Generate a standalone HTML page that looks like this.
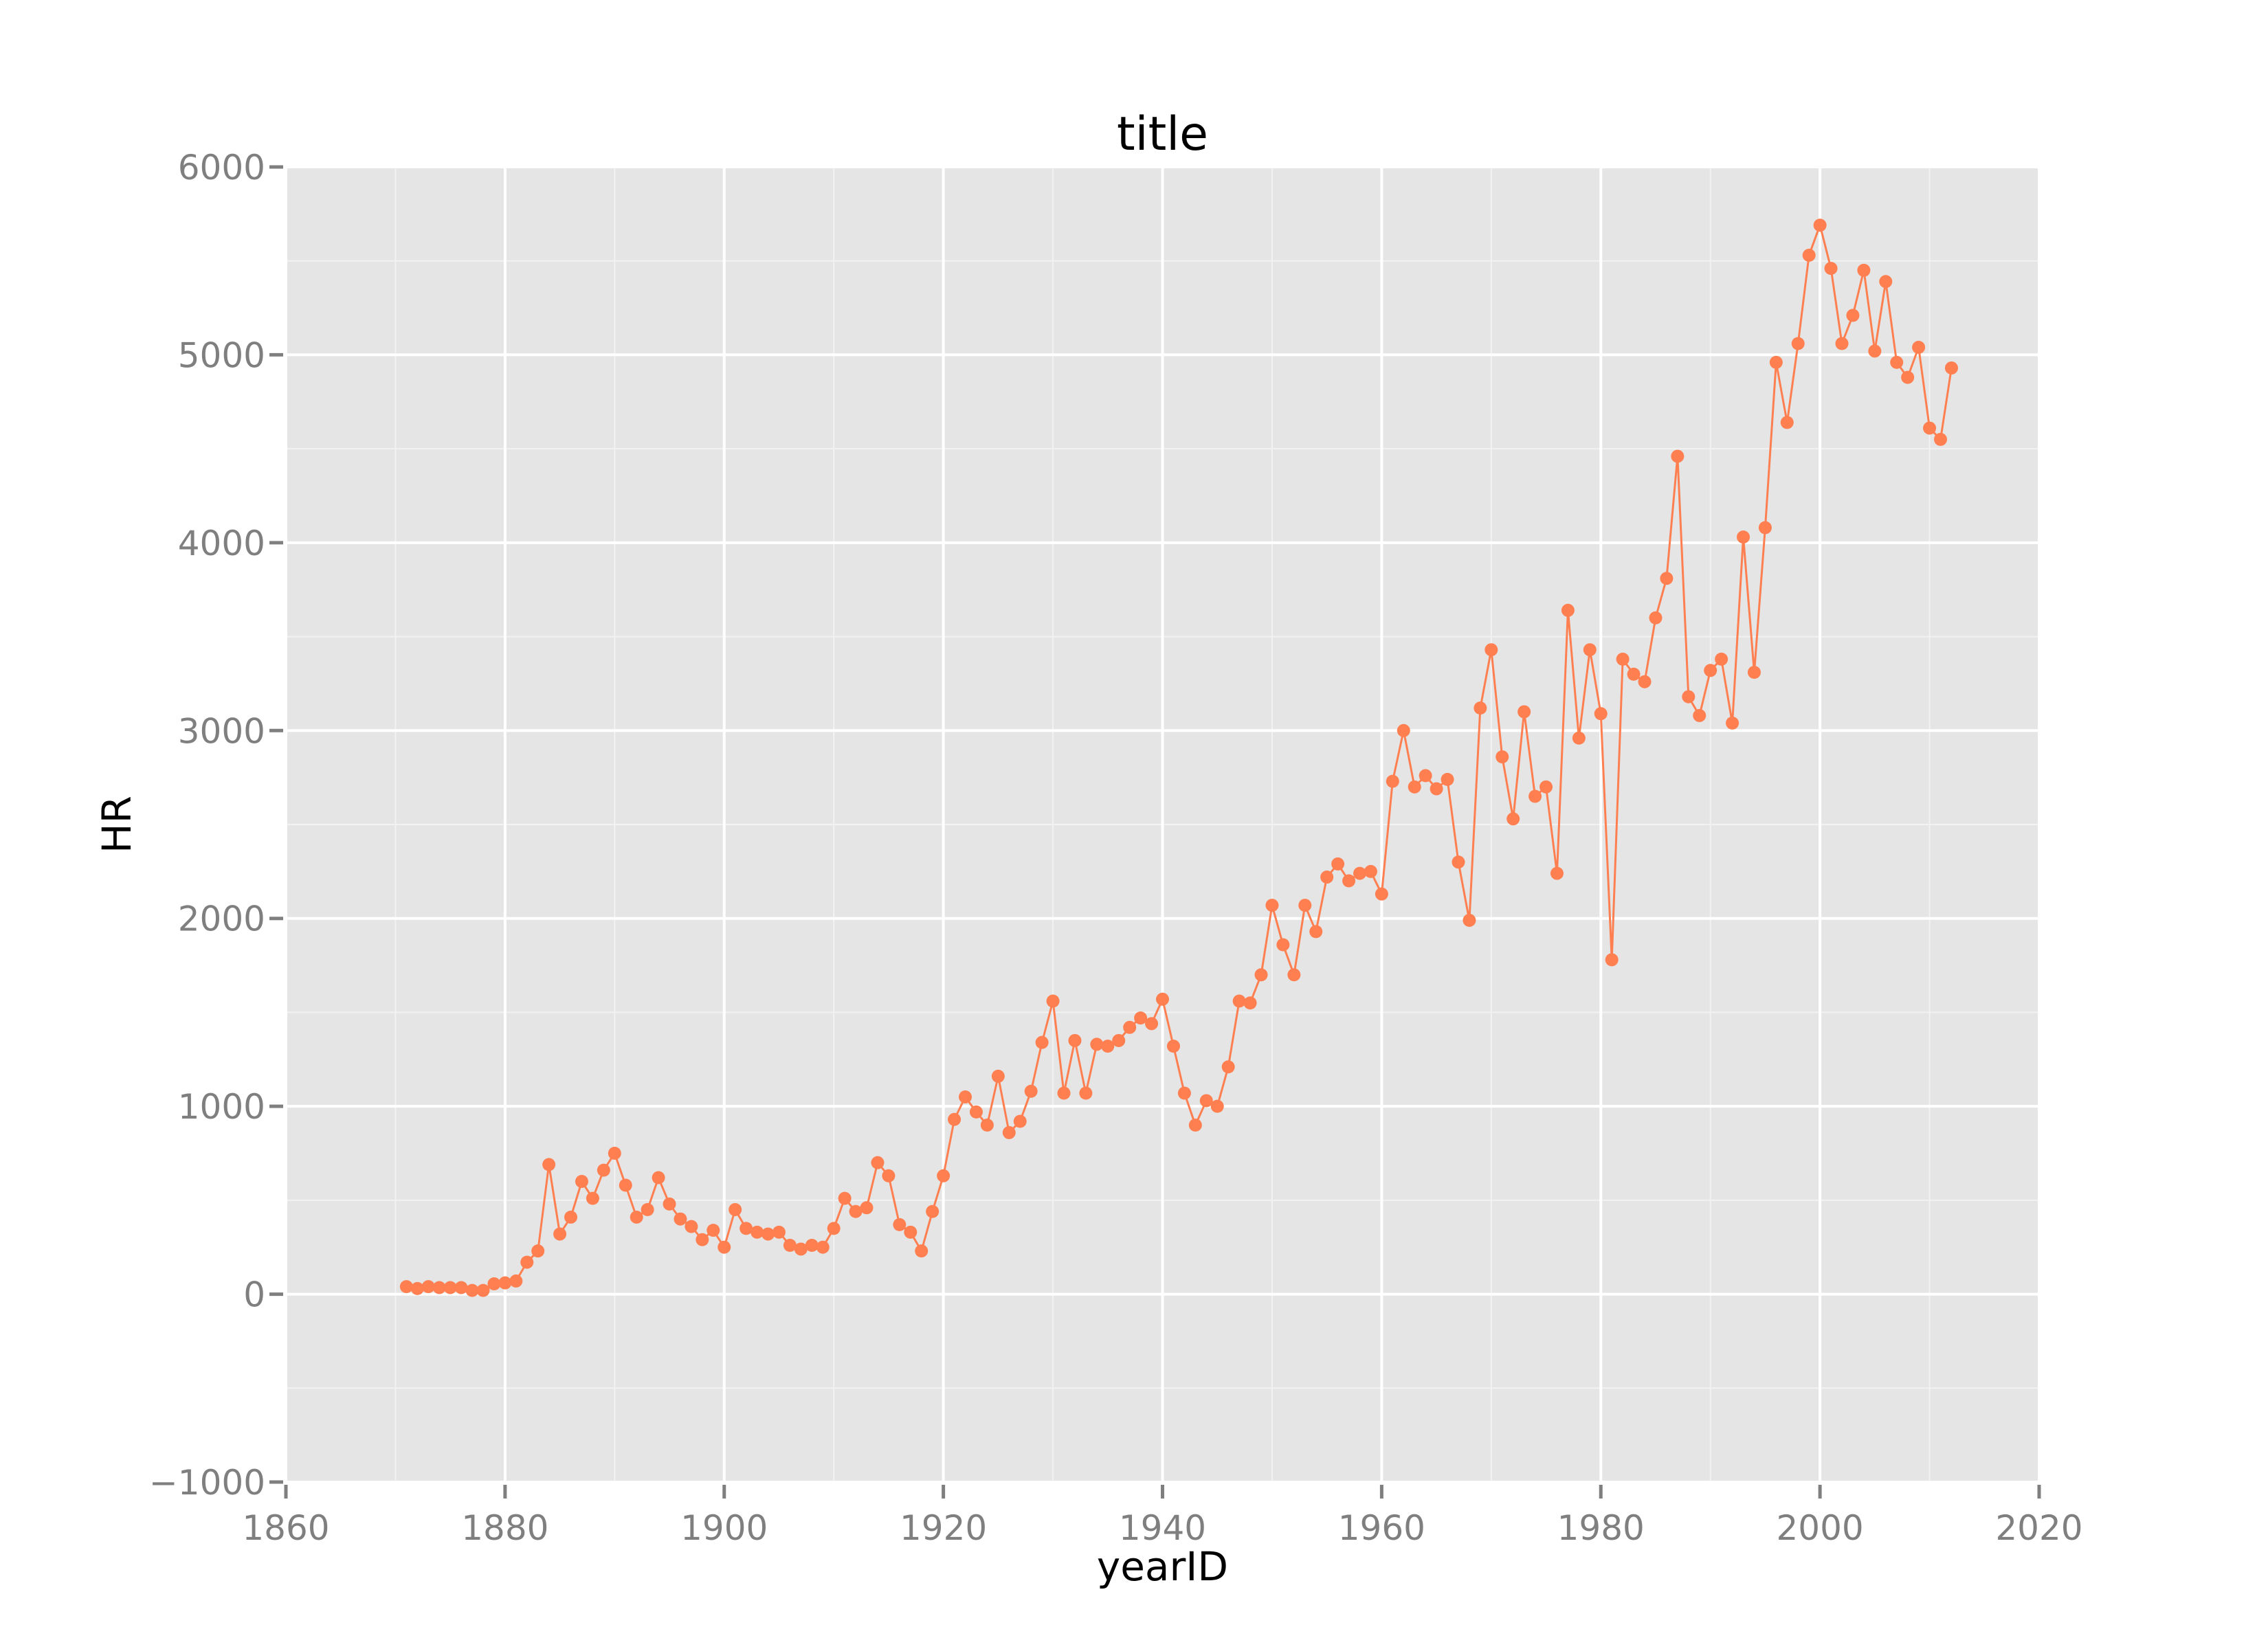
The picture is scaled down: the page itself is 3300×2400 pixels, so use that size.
<!DOCTYPE html>
<html><head><meta charset="utf-8"><style>
html,body{margin:0;padding:0;background:#fff}
svg{display:block}
text{font-family:"DejaVu Sans","Liberation Sans",sans-serif}
</style></head><body>
<svg id="chart" width="3300" height="2400" xmlns="http://www.w3.org/2000/svg"></svg>
<script>
const years = [];
for (let y = 1871; y <= 2012; y++) years.push(y);
const hrValues = [40,30,40,35,35,35,20,20,55,60,70,170,230,690,320,410,600,510,660,750,
580,410,450,620,480,400,360,290,340,250,450,350,330,320,330,260,240,260,250,350,
510,440,460,700,630,370,330,230,440,630,930,1050,970,900,1160,860,920,1080,1340,1560,
1070,1350,1070,1330,1320,1350,1420,1470,1440,1570,1320,1070,900,1030,1000,1210,1560,1550,1700,2070,
1860,1700,2070,1930,2220,2290,2200,2240,2250,2130,2730,3000,2700,2760,2690,2740,2300,1990,3120,3430,
2860,2530,3100,2650,2700,2240,3640,2960,3430,3090,1780,3380,3300,3260,3600,3810,4460,3180,3080,3320,
3380,3040,4030,3310,4080,4960,4640,5060,5530,5690,5460,5060,5210,5450,5020,5390,4960,4880,5040,4610,
4550,4930];
const xTicks = [1860,1880,1900,1920,1940,1960,1980,2000,2020];
const yTicks = [-1000,0,1000,2000,3000,4000,5000,6000];

const L=416,R=2967,T=243,B=2157;
const xMin=1860,xMax=2020,yMin=-1000,yMax=6000;
const sx=v=>L+(v-xMin)/(xMax-xMin)*(R-L);
const sy=v=>B-(v-yMin)/(yMax-yMin)*(B-T);
const NS="http://www.w3.org/2000/svg";
const svg=document.getElementById('chart');
function mk(tag,attrs,parent){const e=document.createElementNS(NS,tag);for(const k in attrs)e.setAttribute(k,attrs[k]);(parent||svg).appendChild(e);return e;}

const bg=mk('rect',{x:L,y:T,width:R-L,height:B-T,fill:'#e5e5e5'});



for(let i=0;i<xTicks.length-1;i++){
  const m=(xTicks[i]+xTicks[i+1])/2;
  const g=mk('line',{x1:sx(m),x2:sx(m),y1:T,y2:B,stroke:'#f2f2f2','stroke-width':2});
  
  
}
for(let i=0;i<yTicks.length-1;i++){
  const m=(yTicks[i]+yTicks[i+1])/2;
  const g=mk('line',{x1:L,x2:R,y1:sy(m),y2:sy(m),stroke:'#f2f2f2','stroke-width':2});
  
  
}
xTicks.forEach(t=>{
  const x=sx(t);
  const g=mk('line',{x1:x,x2:x,y1:T,y2:B,stroke:'#ffffff','stroke-width':4});
  
  
  const tk=mk('line',{x1:x,x2:x,y1:B+4,y2:B+24,stroke:'#7f7f7f','stroke-width':5});
  
  
  const lb=mk('text',{x:x,y:B+84,'text-anchor':'middle','font-size':50,fill:'#7f7f7f'});
  lb.textContent=t;
  
  
});
yTicks.forEach(t=>{
  const y=sy(t);
  const g=mk('line',{x1:L,x2:R,y1:y,y2:y,stroke:'#ffffff','stroke-width':4});
  
  
  const tk=mk('line',{x1:L-4,x2:L-24,y1:y,y2:y,stroke:'#7f7f7f','stroke-width':5});
  
  
  const lb=mk('text',{x:L-30,y:y+18,'text-anchor':'end','font-size':50,fill:'#7f7f7f'});
  lb.textContent=t<0?'\u2212'+Math.abs(t):String(t);
  
  
});
const pts=years.map((y,i)=>sx(y)+','+sy(hrValues[i])).join(' ');
const line=mk('polyline',{points:pts,fill:'none',stroke:'#ff7f50','stroke-width':3});


years.forEach((y,i)=>{
  const c=mk('circle',{cx:sx(y),cy:sy(hrValues[i]),r:9.5,fill:'#ff7f50'});
  
  
});
const tt=mk('text',{x:(L+R)/2,y:218,'text-anchor':'middle','font-size':68,fill:'#000'});
tt.textContent='title';


const xt=mk('text',{x:(L+R)/2,y:2300,'text-anchor':'middle','font-size':58,fill:'#000'});
xt.textContent='yearID';


const yt=mk('text',{x:0,y:0,'text-anchor':'middle','font-size':58,fill:'#000',transform:'translate(190,'+((T+B)/2)+') rotate(-90)'});
yt.textContent='HR';


</script>
</body></html>
